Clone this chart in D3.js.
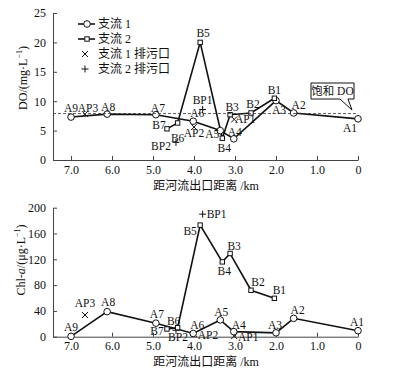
<!DOCTYPE html>
<html>
<head>
<meta charset="utf-8">
<script src="https://cdn.jsdelivr.net/npm/d3@7"></script>
<style>
  body { margin: 0; background: #fff; }
  text { font-family: "Liberation Serif", "Noto Sans CJK SC", serif; fill: #111; }
</style>
</head>
<body>
<svg id="chart"></svg>
<script>
// chart size
var width = 414;
var height = 375;

// site data, distance from river mouth (km)
var siteA = ['A1', 'A2', 'A3', 'A4', 'A5', 'A6', 'A7', 'A8', 'A9'];
var distA = [0, 1.57, 2.0, 3.03, 3.36, 4.02, 4.93, 6.12, 7.0];
var doA = [7.0, 8.0, 10.1, 3.6, 5.0, 6.6, 7.7, 7.8, 7.3];
var chlA = [9.3, 28.5, 6, 7.8, 26, 5, 21, 38.8, 0.5];

var siteB = ['B1', 'B2', 'B3', 'B4', 'B5', 'B6', 'B7'];
var distB = [2.04, 2.61, 3.12, 3.31, 3.85, 4.4, 4.66];
var doB = [10.5, 8.0, 7.7, 3.7, 20, 6.3, 5.3];
var chlB = [59.5, 72, 129, 116, 173, 14, 12];

// outlets
var siteAP = ['AP1', 'AP2', 'AP3'];
var distAP = [3.02, 4.0, 6.66];
var doAP = [6.9, 5.6, 7.8];
var chlAP = [1, 4, 33.6];

var siteBP = ['BP1', 'BP2'];
var distBP = [3.79, 4.44];
var doBP = [8.6, 3.0];
var chlBP = [190, 10];

var satDO = 7.9;
var xTicks = [7, 6, 5, 4, 3, 2, 1, 0];
var doTicks = [0, 5, 10, 15, 20, 25];
var chlTicks = [0, 40, 80, 120, 160, 200];
var legendLabels = ['支流 1', '支流 2', '支流 1 排污口', '支流 2 排污口'];

// label offsets (px) for each panel
var offDO = {
  A1: [-8, 9], A2: [5, -8], A3: [3, 9], A4: [1, -7], A5: [-8, 3], A6: [4, -8],
  A7: [2, -7], A8: [1, -7], A9: [0, -9],
  B1: [0, -8], B2: [2, -9], B3: [2, -8], B4: [2, 10], B5: [3, -9], B6: [0, 15], B7: [-8, -4],
  AP1: [11, 0], AP2: [0, 6], AP3: [3, -6], BP1: [0, -9], BP2: [-15, 4]
};
var offChl = {
  A1: [-1, -9], A2: [4, -8], A3: [-1, -8], A4: [5, -7], A5: [1, -8], A6: [4, -8],
  A7: [1, -9], A8: [1, -10], A9: [0, -9],
  B1: [5, -8], B2: [7, -8], B3: [4, -7], B4: [2, 9], B5: [-10, 6], B6: [-4, -7], B7: [-10, 2],
  AP1: [14, 1], AP2: [14, 1], AP3: [0, -12], BP1: [14, 0], BP2: [2, 7]
};

var svg = d3.select('#chart')
  .attr('width', width)
  .attr('height', height);

var x = d3.scaleLinear().domain([7.44, 0]).range([53, 358]);

function zip(sites, dist, vals) {
  return sites.map((s, i) => ({ site: s, d: dist[i], v: vals[i] }));
}

function panel(y, vals, ticks, off, xLabelY) {
  var g = svg.append('g');

  // axes
  var xa = g.append('g')
    .attr('transform', 'translate(0,' + y.range()[0] + ')')
    .call(d3.axisBottom(x).tickValues(xTicks)
      .tickFormat(d => d === 0 ? '0' : d.toFixed(1))
      .tickSizeInner(-4).tickSizeOuter(0).tickPadding(5));
  var ya = g.append('g')
    .attr('transform', 'translate(53,0)')
    .call(d3.axisLeft(y).tickValues(ticks)
      .tickSizeInner(-4).tickSizeOuter(0).tickPadding(7));
  [xa, ya].forEach(a => {
    a.attr('font-family', null);
    a.selectAll('path, line').attr('stroke', '#444');
    a.selectAll('text').attr('font-size', 12).attr('fill', '#111');
  });

  g.append('text')
    .attr('x', 206).attr('y', xLabelY)
    .attr('text-anchor', 'middle')
    .attr('font-size', 12)
    .text('距河流出口距离 /km');

  var A = zip(siteA, distA, vals.a);
  var B = zip(siteB, distB, vals.b);
  var AP = zip(siteAP, distAP, vals.ap);
  var BP = zip(siteBP, distBP, vals.bp);

  var line = d3.line().x(d => x(d.d)).y(d => y(d.v));

  g.append('path').datum(A).attr('d', line)
    .attr('fill', 'none').attr('stroke', '#111').attr('stroke-width', 1.6);
  g.append('path').datum(B).attr('d', line)
    .attr('fill', 'none').attr('stroke', '#111').attr('stroke-width', 1.6);

  // outlets
  g.selectAll('.ap').data(AP).enter().append('path')
    .attr('transform', d => 'translate(' + x(d.d) + ',' + y(d.v) + ')')
    .attr('d', 'M-3,-3L3,3M-3,3L3,-3')
    .attr('stroke', '#111').attr('stroke-width', 1);
  g.selectAll('.bp').data(BP).enter().append('path')
    .attr('transform', d => 'translate(' + x(d.d) + ',' + y(d.v) + ')')
    .attr('d', 'M-3.5,0H3.5M0,-3.5V3.5')
    .attr('stroke', '#111').attr('stroke-width', 1);

  g.selectAll('.ma').data(A).enter().append('circle')
    .attr('cx', d => x(d.d)).attr('cy', d => y(d.v)).attr('r', 3.3)
    .attr('fill', '#fff').attr('stroke', '#111').attr('stroke-width', 1);
  g.selectAll('.mb').data(B).enter().append('rect')
    .attr('x', d => x(d.d) - 2.2).attr('y', d => y(d.v) - 2.2)
    .attr('width', 4.4).attr('height', 4.4)
    .attr('fill', '#fff').attr('stroke', '#111').attr('stroke-width', 1);

  // site labels
  g.selectAll('.lab').data(A.concat(B, AP, BP)).enter().append('text')
    .attr('x', d => x(d.d) + off[d.site][0])
    .attr('y', d => y(d.v) + off[d.site][1])
    .attr('text-anchor', 'middle')
    .attr('dominant-baseline', 'central')
    .attr('font-size', 11.5)
    .text(d => d.site);

  return g;
}

// DO panel
var yDO = d3.scaleLinear().domain([0, 25]).range([160, 13]);
var topG = panel(yDO, { a: doA, b: doB, ap: doAP, bp: doBP }, doTicks, offDO, 190);

topG.append('line')
  .attr('x1', 53).attr('x2', 358)
  .attr('y1', yDO(satDO)).attr('y2', yDO(satDO))
  .attr('stroke', '#333').attr('stroke-width', 0.8)
  .attr('stroke-dasharray', '3,2');

// callout "饱和 DO"
topG.append('path')
  .attr('d', 'M311,83H354V99H348L352,110L340,99H311Z')
  .attr('fill', '#fff').attr('stroke', '#111').attr('stroke-width', 1);
topG.append('text')
  .attr('x', 332.5).attr('y', 91)
  .attr('text-anchor', 'middle').attr('dominant-baseline', 'central')
  .attr('font-size', 11.5)
  .text('饱和 DO');

topG.append('text')
  .attr('transform', 'translate(27,78) rotate(-90)')
  .attr('text-anchor', 'middle')
  .attr('font-size', 12)
  .html('DO/(mg·L<tspan dy="-5" font-size="8">−1</tspan><tspan dy="5">)</tspan>');

// legend
var leg = topG.append('g').attr('transform', 'translate(78,24)');
legendLabels.forEach((t, i) => {
  var row = leg.append('g').attr('transform', 'translate(0,' + i * 15 + ')');
  if (i < 2) {
    row.append('line').attr('x1', 0).attr('x2', 17)
      .attr('stroke', '#111').attr('stroke-width', 1.6);
  }
  if (i === 0) {
    row.append('circle').attr('cx', 9).attr('r', 3.3)
      .attr('fill', '#fff').attr('stroke', '#111');
  } else if (i === 1) {
    row.append('rect').attr('x', 6.8).attr('y', -2.2).attr('width', 4.4).attr('height', 4.4)
      .attr('fill', '#fff').attr('stroke', '#111');
  } else if (i === 2) {
    row.append('path').attr('d', 'M4,-3L10,3M4,3L10,-3').attr('stroke', '#111');
  } else {
    row.append('path').attr('d', 'M3.5,0H10.5M7,-3.5V3.5').attr('stroke', '#111');
  }
  row.append('text').attr('x', 20).attr('dominant-baseline', 'central')
    .attr('font-size', 12).text(t);
});

// Chl-a panel
var yChl = d3.scaleLinear().domain([0, 200]).range([336.7, 207.7]);
var bottomG = panel(yChl, { a: chlA, b: chlB, ap: chlAP, bp: chlBP }, chlTicks, offChl, 366);

bottomG.append('text')
  .attr('transform', 'translate(25,260) rotate(-90)')
  .attr('text-anchor', 'middle')
  .attr('font-size', 12)
  .html('Chl-<tspan font-style="italic">a</tspan>/(μg·L<tspan dy="-5" font-size="8">−1</tspan><tspan dy="5">)</tspan>');
</script>
</body>
</html>
